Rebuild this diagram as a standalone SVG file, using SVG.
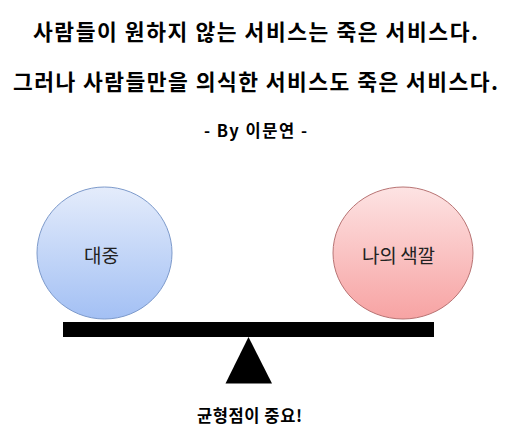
<svg xmlns="http://www.w3.org/2000/svg" width="511" height="436" viewBox="0 0 511 436">
<defs>
<linearGradient id="gBlue" x1="0" y1="0" x2="0" y2="1">
<stop offset="0" stop-color="#e4ecfb"/>
<stop offset="1" stop-color="#a3c0f4"/>
</linearGradient>
<linearGradient id="gRed" x1="0" y1="0" x2="0" y2="1">
<stop offset="0" stop-color="#fde3e3"/>
<stop offset="1" stop-color="#f7a3a3"/>
</linearGradient>
</defs>
<style>
text{font-family:"Noto Sans CJK KR","Noto Sans",sans-serif;text-anchor:middle;}
.title{font-size:21.5px;font-weight:bold;fill:#000;}
.sub{font-size:16.5px;font-weight:bold;fill:#000;}
.label{font-size:19px;fill:#222;}
</style>
<rect width="511" height="436" fill="#fff"/>
<g id="titles">
<text class="title" x="255.5" y="40" textLength="445" lengthAdjust="spacing">사람들이 원하지 않는 서비스는 죽은 서비스다.</text>
<text class="title" x="255.5" y="90" textLength="485" lengthAdjust="spacing">그러나 사람들만을 의식한 서비스도 죽은 서비스다.</text>
<text class="sub" x="255.5" y="137" textLength="103" lengthAdjust="spacing">- By 이문연 -</text>
</g>
<g id="node-public">
<ellipse cx="104.5" cy="253" rx="67.5" ry="66" fill="url(#gBlue)" stroke="#7d9acb" stroke-width="1"/>
<text class="label" x="101.5" y="263" textLength="35" lengthAdjust="spacing">대중</text>
</g>
<g id="node-color">
<ellipse cx="403" cy="253" rx="70" ry="66" fill="url(#gRed)" stroke="#b87474" stroke-width="1"/>
<text class="label" x="398.5" y="263" textLength="73" lengthAdjust="spacing">나의 색깔</text>
</g>
<g id="connectors">
<rect id="beam" x="63" y="322" width="371" height="15" fill="#000"/>
<polygon id="fulcrum" points="248.5,337 272,383.5 225.5,383.5" fill="#000"/>
</g>
<g id="caption">
<text class="sub" x="249.5" y="422" textLength="105" lengthAdjust="spacing">균형점이 중요!</text>
</g>
</svg>
